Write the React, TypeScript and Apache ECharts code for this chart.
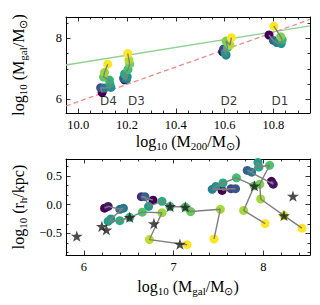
import React, { useEffect, useRef } from "react";
import * as echarts from "echarts";

// ---------- data ----------
// top panel: [log10 M200, log10 Mgal, time fraction]
const d1Top: number[][] = [
  [10.782, 8.11, 0.0], [10.8, 7.93, 0.3], [10.814, 7.86, 0.45], [10.832, 7.83, 0.52],
  [10.836, 7.95, 0.65], [10.83, 8.05, 0.8], [10.802, 8.4, 1.0],
];
const d2Top: number[][] = [
  [10.592, 7.56, 0.0], [10.596, 7.65, 0.22], [10.606, 7.45, 0.45], [10.602, 7.52, 0.52],
  [10.612, 7.7, 0.68], [10.606, 7.91, 0.8], [10.622, 7.78, 0.88], [10.628, 8.02, 1.0],
];
const d3Top: number[][] = [
  [10.19, 6.64, 0.0], [10.186, 6.69, 0.28], [10.198, 6.66, 0.42], [10.201, 6.74, 0.5],
  [10.19, 6.83, 0.6], [10.204, 6.98, 0.7], [10.211, 7.16, 0.78], [10.208, 7.29, 0.88],
  [10.203, 7.5, 1.0],
];
const d4Top: number[][] = [
  [10.098, 6.22, 0.0], [10.092, 6.38, 0.25], [10.106, 6.37, 0.4], [10.134, 6.39, 0.5],
  [10.13, 6.5, 0.58], [10.128, 6.63, 0.66], [10.104, 6.73, 0.75], [10.108, 6.88, 0.85],
  [10.121, 7.15, 1.0],
];
// bottom panel: [log10 Mgal, log10 rh, time fraction]
const d1Bot: number[][] = [
  [8.09, 0.41, 0.0], [8.11, 0.36, 0.05], [7.82, 0.6, 0.3], [7.87, 0.57, 0.4],
  [7.94, 0.74, 0.55], [7.95, 0.66, 0.6], [8.07, 0.69, 0.72], [7.96, 0.36, 0.8],
  [7.97, 0.1, 0.86], [8.23, -0.19, 0.92], [8.43, -0.41, 1.0],
];
const d2Bot: number[][] = [
  [7.54, 0.25, 0.0], [7.64, 0.28, 0.2], [7.69, 0.28, 0.26], [7.43, 0.27, 0.45],
  [7.47, 0.32, 0.5], [7.55, 0.38, 0.6], [7.7, 0.47, 0.7], [7.9, 0.33, 0.76],
  [7.78, -0.1, 0.86], [8.02, -0.33, 1.0],
];
const d3Bot: number[][] = [
  [6.77, 0.08, 0.0], [6.64, 0.14, 0.12], [6.68, 0.14, 0.3], [6.72, -0.03, 0.55],
  [6.87, 0.06, 0.62], [6.96, -0.03, 0.68], [7.13, -0.04, 0.72], [7.19, -0.12, 0.76],
  [7.52, -0.08, 0.86], [7.45, -0.6, 1.0],
];
const d4Bot: number[][] = [
  [6.23, -0.06, 0.0], [6.27, -0.03, 0.06], [6.4, -0.08, 0.35], [6.44, -0.06, 0.4],
  [6.3, -0.25, 0.52], [6.27, -0.29, 0.56], [6.4, -0.28, 0.62], [6.51, -0.22, 0.66],
  [6.65, -0.13, 0.72], [6.87, -0.14, 0.85], [6.73, -0.61, 0.9], [7.15, -0.7, 1.0],
];
const starsBot: number[][] = [
  [5.92, -0.55], [6.2, -0.38], [6.25, -0.44], [6.51, -0.22], [6.78, -0.33], [6.96, -0.03],
  [7.13, -0.04], [7.07, -0.69], [7.9, 0.33], [8.23, -0.19], [8.33, 0.15],
];
const greenRelation: number[][] = [[9.95, 7.125], [10.95, 8.41]];
const redRelation: number[][] = [[9.95, 5.78], [10.95, 8.62]];
const galaxyNames = ["D1", "D2", "D3", "D4"];
const galaxyLabelX = [10.827, 10.618, 10.239, 10.124];
const galaxyLabelY = [5.93, 5.93, 5.93, 5.93];

// ticks
const topXMajor = [10.0, 10.2, 10.4, 10.6, 10.8];
const topYMajor = [6, 8];
const botXMajor = [6, 7, 8];
const botYMajor = [-0.5, 0, 0.5];

const viridis = ["#440154", "#482878", "#3e4989", "#31688e", "#26828e", "#1f9e89", "#35b779", "#6ece58", "#b5de2b", "#fde725"];
const STAR = "path://M10 0 L12.245 6.91 L19.51 6.91 L13.63 11.18 L15.88 18.09 L10 13.82 L4.12 18.09 L6.37 11.18 L0.49 6.91 L7.755 6.91 Z";

function steps(start: number, end: number, step: number, skip: number[]) {
  const out: number[] = [];
  for (let i = 0; ; i++) {
    const v = Math.round((start + i * step) * 10000) / 10000;
    if (v > end + 1e-9) break;
    if (!skip.some((s) => Math.abs(s - v) < 1e-6)) out.push(v);
  }
  return out;
}

const SERIF = "Liberation Serif";
const rich = {
  n: { fontSize: 16, fontFamily: SERIF, color: "#000", lineHeight: 20, verticalAlign: "middle" as const },
  s: { fontSize: 11, fontFamily: SERIF, color: "#000", lineHeight: 20, verticalAlign: "bottom" as const },
};

function fmt(v: number, d: number) {
  const s = Math.abs(v).toFixed(d);
  return v < -1e-9 ? "\u2212" + s : s;
}

function axes(dim: "x" | "y", grid: number, min: number, max: number, major: number[], minor: number[], dec: number, name: string, nameGap: number) {
  const pos = dim === "x" ? ["bottom", "top"] : ["left", "right"];
  const line = { show: true, onZero: false, lineStyle: { color: "#000", width: 1 } };
  const noLine = { show: false, onZero: false };
  const base = { type: "value", gridIndex: grid, min, max, splitLine: { show: false } };
  return [
    {
      ...base, position: pos[0], axisLine: line,
      axisTick: { show: true, inside: true, length: 4.5, customValues: major, lineStyle: { color: "#000", width: 0.8 } },
      axisLabel: { show: true, customValues: major, formatter: (v: number) => fmt(v, dec), fontFamily: SERIF, fontSize: 12.5, color: "#000", margin: dim === "x" ? 5 : 4 },
      name, nameLocation: "middle", nameGap, nameRotate: dim === "y" ? 90 : 0,
      nameTextStyle: { rich },
    },
    {
      ...base, position: pos[0], axisLine: noLine,
      axisTick: { show: true, inside: true, length: 2.5, customValues: minor, lineStyle: { color: "#000", width: 0.8 } },
      axisLabel: { show: false },
    },
    {
      ...base, position: pos[1], axisLine: line,
      axisTick: { show: true, inside: true, length: 4.5, customValues: major, lineStyle: { color: "#000", width: 0.8 } },
      axisLabel: { show: false },
    },
    {
      ...base, position: pos[1], axisLine: noLine,
      axisTick: { show: true, inside: true, length: 2.5, customValues: minor, lineStyle: { color: "#000", width: 0.8 } },
      axisLabel: { show: false },
    },
  ];
}

export default function App() {
  const ref = useRef<HTMLDivElement>(null);
  useEffect(() => {
    if (!ref.current) return;
    const chart = echarts.init(ref.current, null, { renderer: "svg" });

    const xAxis = [
      ...axes("x", 0, 9.95, 10.95, topXMajor, steps(9.95, 10.95, 0.05, topXMajor), 1,
        "{n|log}{s|10}{n| (M}{s|200}{n|/M}{s|\u2299}{n|)}", 18),
      ...axes("x", 1, 5.8, 8.52, botXMajor, steps(5.8, 8.52, 0.2, botXMajor), 0,
        "{n|log}{s|10}{n| (M}{s|gal}{n|/M}{s|\u2299}{n|)}", 21),
    ];
    const yAxis = [
      ...axes("y", 0, 5.55, 8.7, topYMajor, steps(5.5, 8.7, 0.5, topYMajor).filter((v) => v >= 5.55), 0,
        "{n|log}{s|10}{n| (M}{s|gal}{n|/M}{s|\u2299}{n|)}", 38),
      ...axes("y", 1, -0.88, 0.8, botYMajor, steps(-0.8333, 0.8, 1 / 6, botYMajor), 1,
        "{n|log}{s|10}{n| (r}{s|h}{n|/kpc)}", 38),
    ];

    const series: any[] = [];
    const scatterIdx: number[] = [];
    series.push({
      type: "line", xAxisIndex: 0, yAxisIndex: 0, data: greenRelation, symbol: "none", z: 1,
      lineStyle: { color: "#8fd18f", width: 1.3 },
    });
    series.push({
      type: "line", xAxisIndex: 0, yAxisIndex: 0, data: redRelation, symbol: "none", z: 1,
      lineStyle: { color: "#f08a8a", width: 1.3, type: [5, 3] },
    });
    const addTrack = (data: number[][], xi: number, yi: number) => {
      scatterIdx.push(series.length);
      series.push({
        type: "scatter", xAxisIndex: xi, yAxisIndex: yi, data, symbol: "circle", symbolSize: 9, z: 2,
        itemStyle: { opacity: 1 },
      });
      series.push({
        type: "line", xAxisIndex: xi, yAxisIndex: yi, data: data.map((d) => [d[0], d[1]]), symbol: "none", z: 3,
        lineStyle: { color: "#7f7f7f", width: 1.4 },
      });
    };
    [d1Top, d2Top, d3Top, d4Top].forEach((d) => addTrack(d, 0, 0));
    [d1Bot, d2Bot, d3Bot, d4Bot].forEach((d) => addTrack(d, 4, 4));
    series.push({
      type: "scatter", xAxisIndex: 4, yAxisIndex: 4, data: starsBot, symbol: STAR, symbolKeepAspect: true,
      symbolSize: 12, z: 4, itemStyle: { color: "#1e1e1e" },
    });
    series.push({
      type: "scatter", xAxisIndex: 0, yAxisIndex: 0, z: 5, symbolSize: 1, itemStyle: { color: "rgba(0,0,0,0)" },
      data: galaxyNames.map((n, i) => ({ name: n, value: [galaxyLabelX[i], galaxyLabelY[i]] })),
      label: { show: true, position: "inside", formatter: (p: any) => p.name, color: "#000", fontFamily: "DejaVu Sans", fontSize: 12 },
    });

    chart.setOption({
      animation: false,
      backgroundColor: "#fff",
      grid: [
        { left: 66, width: 244, top: 17, height: 96 },
        { left: 66, width: 244, top: 159, height: 96 },
      ],
      xAxis,
      yAxis,
      visualMap: {
        type: "continuous", show: false, min: 0, max: 1, dimension: 2, seriesIndex: scatterIdx,
        inRange: { color: viridis },
      },
      series,
    });
    return () => chart.dispose();
  }, []);
  return <div ref={ref} style={{ position: "absolute", left: 0, top: 0, width: 320, height: 305 }} />;
}
